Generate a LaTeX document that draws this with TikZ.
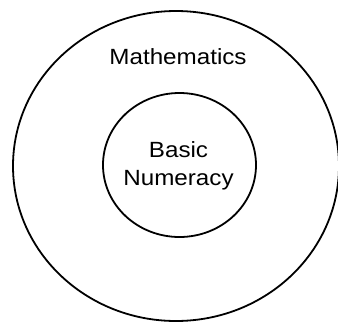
\documentclass[tikz,border=0pt]{standalone}
\usepackage{fontspec}
\setmainfont{Liberation Sans}
\usetikzlibrary{shapes.geometric}
\begin{document}
\begin{tikzpicture}[x=1pt,y=-1pt,
  ring/.style={draw=black,line width=1.8pt,ellipse,inner sep=0pt},
  lbl/.style={anchor=base,inner sep=0pt,font=\fontsize{22}{27}\selectfont}]
\useasboundingbox (0,0) rectangle (338,322);
\node[ring,minimum width=326pt,minimum height=310pt] (outer) at (176,166) {};
\node[ring,minimum width=153pt,minimum height=144pt] (inner) at (179.5,165) {};
\node[lbl] (math) at (178,64) {\scalebox{1.1}[1]{Mathematics}};
\node[lbl] (basic) at (178.5,157.7) {\scalebox{1.1}[1]{Basic}};
\node[lbl] (num) at (178.5,185) {\scalebox{1.1}[1]{Numeracy}};
\end{tikzpicture}
\end{document}
